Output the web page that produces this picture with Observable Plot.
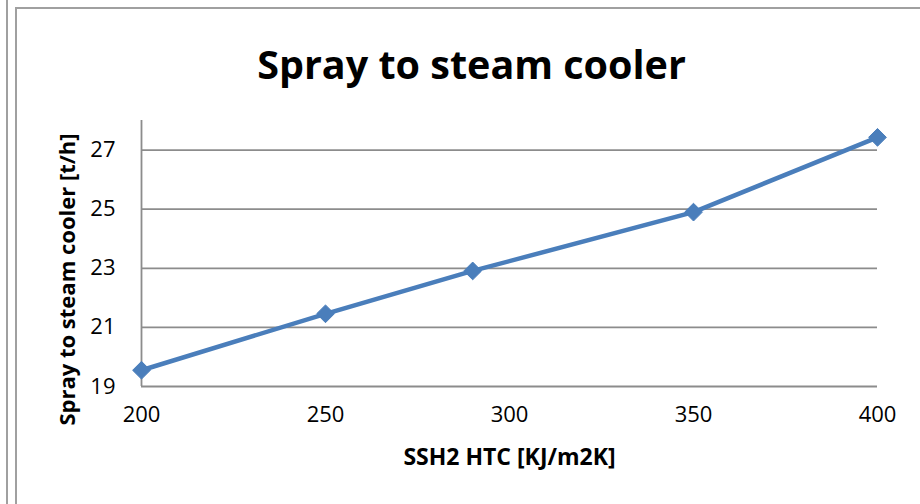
<!DOCTYPE html>
<html>
<head>
<meta charset="utf-8">
<script src="https://cdn.jsdelivr.net/npm/d3@7"></script>
<script src="https://cdn.jsdelivr.net/npm/@observablehq/plot@0.6"></script>
<style>
  html, body { margin: 0; padding: 0; background: #fff; }
  #wrap { position: relative; width: 920px; height: 504px; overflow: hidden; font-family: "Open Sans", sans-serif; }
  #wrap svg { position: absolute; left: 0; top: 0; }
  .edge { position: absolute; background: #a0a0a0; }
</style>
</head>
<body>
<div id="wrap">
  <div class="edge" style="left:6px;top:0;width:2px;height:504px;"></div>
  <div class="edge" style="left:15px;top:7px;width:2px;height:497px;"></div>
  <div class="edge" style="left:15px;top:7px;width:905px;height:2px;"></div>
</div>
<script>
const title = "Spray to steam cooler";
const xLabel = "SSH2 HTC [KJ/m2K]";
const yLabel = "Spray to steam cooler [t/h]";
const htc = [200, 250, 290, 350, 400];
const spray = [19.55, 21.46, 22.91, 24.9, 27.43];
const xTicks = [200, 250, 300, 350, 400];
const yTicks = [19, 21, 23, 25, 27];

const data = htc.map((x, i) => ({x, y: spray[i]}));
const blue = "#4a7ebb";
const grid = "#8c8c8c";

const chart = Plot.plot({
  width: 920,
  height: 504,
  marginTop: 120,
  marginRight: 43,
  marginBottom: 118,
  marginLeft: 141,
  style: {fontFamily: "Open Sans, sans-serif", background: "transparent", overflow: "visible"},
  x: {domain: [200, 400]},
  y: {domain: [19, 28]},
  marks: [
    Plot.ruleY(yTicks, {stroke: grid, strokeWidth: 1.8}),
    Plot.ruleX([200], {y1: 19, y2: 28, stroke: grid, strokeWidth: 1.8}),
    Plot.axisY({ticks: yTicks, tickSize: 0, tickPadding: 26, fontSize: 22, label: null, fill: "#000", textAnchor: "end"}),
    Plot.axisX({ticks: xTicks, tickSize: 0, tickPadding: 20, fontSize: 22, label: null, fill: "#000", tickFormat: d => String(d)}),
    Plot.line(data, {x: "x", y: "y", stroke: blue, strokeWidth: 4.5}),
    Plot.dot(data, {x: "x", y: "y", symbol: "diamond2", r: 8, fill: blue, stroke: blue, strokeWidth: 1}),
    Plot.text([title], {frameAnchor: "top", dy: -70, dx: -38, fontSize: 39.5, fontWeight: "bold", fill: "#000"}),
    Plot.text([xLabel], {frameAnchor: "bottom", dy: 78, dx: 0, fontSize: 23, fontWeight: "bold", fill: "#000"}),
    Plot.text([yLabel], {frameAnchor: "left", textAnchor: "middle", dx: -74, dy: 26, rotate: -90, fontSize: 22, fontWeight: "bold", fill: "#000"})
  ]
});
document.getElementById("wrap").appendChild(chart);
</script>
</body>
</html>
